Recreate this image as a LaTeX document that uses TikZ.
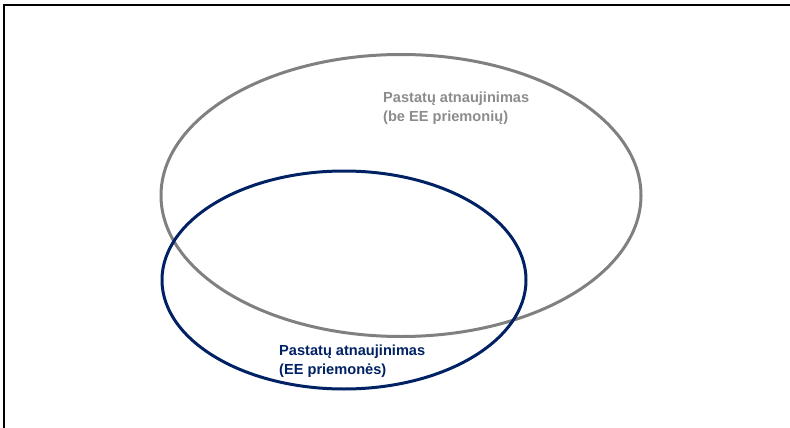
\documentclass[tikz,border=0pt]{standalone}
\usepackage{fontspec}
\setmainfont{Liberation Sans}
\usepackage{xcolor}
\usetikzlibrary{shapes.geometric}
\definecolor{renovgray}{RGB}{128,128,128}
\definecolor{labelgray}{RGB}{140,140,140}
\definecolor{eenavy}{RGB}{0,33,99}

\begin{document}
\begin{tikzpicture}[x=1pt,y=-1pt,
  outerset/.style={ellipse,draw=renovgray,line width=3pt,minimum width=480pt,minimum height=282pt,inner sep=0pt},
  innerset/.style={ellipse,draw=eenavy,line width=3pt,minimum width=364pt,minimum height=218pt,inner sep=0pt},
  setlabel/.style={anchor=north west,align=left,inner sep=0pt,font=\bfseries\fontsize{14.6}{18.5}\selectfont},
]
\useasboundingbox (0,0) rectangle (790,428);
\draw[line width=1.8pt] (4,428) -- (4,5) -- (790,5);
\node[outerset] (renov) at (401,195.5) {};
\node[innerset] (eemeas) at (344,280) {};
\node[setlabel,text=labelgray] (renovlabel) at (383,92) {Pastatų atnaujinimas\\(be EE priemonių)};
\node[setlabel,text=eenavy] (eelabel) at (279,345) {Pastatų atnaujinimas\\(EE priemonės)};
\end{tikzpicture}
\end{document}
